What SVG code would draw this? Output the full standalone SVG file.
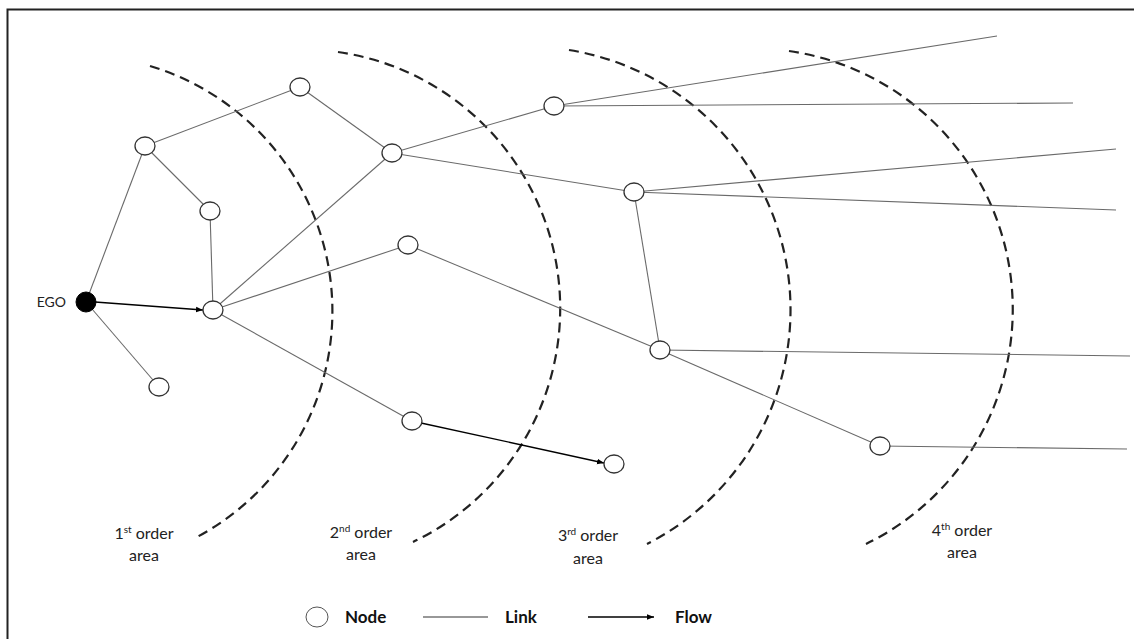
<svg xmlns="http://www.w3.org/2000/svg" width="1134" height="639" viewBox="0 0 1134 639">
<defs>
<style>
.node{fill:#fff;stroke:#333;stroke-width:1.3}
.ego{fill:#000;stroke:#000}
.link{stroke:#6a6a6a;stroke-width:1.1;fill:none}
.flow{stroke:#000;stroke-width:1.3;fill:none;marker-end:url(#ah)}
.area{fill:none;stroke:#222;stroke-width:2.2;stroke-dasharray:10 6}
.lbl{font-family:Lato,"Open Sans",sans-serif;font-size:16px;fill:#222;text-anchor:middle}
.leg{font-family:Lato,"Open Sans",sans-serif;font-size:17px;font-weight:bold;fill:#111}
</style>
<marker id="ah" viewBox="0 0 10 10" refX="10" refY="5" markerWidth="7" markerHeight="7" markerUnits="userSpaceOnUse" orient="auto">
<path d="M0,1 L10,5 L0,9 z" fill="#000"/>
</marker>
</defs>
<rect width="1134" height="639" fill="#fff"/>
<path d="M7.5,639 V9.5 H1134" fill="none" stroke="#222" stroke-width="2"/>
<g id="areas">
<path class="area" d="M150,66 A256,256 0 0 1 197,537"/>
<path class="area" d="M338,52 A259,259 0 0 1 413,542"/>
<path class="area" d="M569,50 A263,263 0 0 1 647,544"/>
<path class="area" d="M789,51 A261,261 0 0 1 866,544"/>
</g>
<g id="connectors">
<line class="link" x1="86" y1="302" x2="145" y2="146"/>
<line class="link" x1="145" y1="146" x2="300" y2="87"/>
<line class="link" x1="145" y1="146" x2="210" y2="211"/>
<line class="link" x1="210" y1="211" x2="213" y2="310"/>
<line class="link" x1="300" y1="87" x2="392" y2="153"/>
<line class="link" x1="392" y1="153" x2="213" y2="310"/>
<line class="link" x1="392" y1="153" x2="554" y2="106"/>
<line class="link" x1="392" y1="153" x2="634" y2="192"/>
<line class="link" x1="213" y1="310" x2="408" y2="245"/>
<line class="link" x1="408" y1="245" x2="660" y2="350"/>
<line class="link" x1="634" y1="192" x2="660" y2="350"/>
<line class="link" x1="213" y1="310" x2="412" y2="421"/>
<line class="link" x1="86" y1="302" x2="159" y2="387"/>
<line class="link" x1="554" y1="106" x2="997" y2="36"/>
<line class="link" x1="554" y1="106" x2="1073" y2="103"/>
<line class="link" x1="634" y1="192" x2="1116" y2="149"/>
<line class="link" x1="634" y1="192" x2="1116" y2="210"/>
<line class="link" x1="660" y1="350" x2="1130" y2="356"/>
<line class="link" x1="660" y1="350" x2="880" y2="446"/>
<line class="link" x1="880" y1="446" x2="1127" y2="449"/>
<line class="flow" x1="95" y1="302" x2="203" y2="310"/>
<line class="flow" x1="421" y1="423" x2="604" y2="463"/>
</g>
<g id="ego"><circle class="ego" cx="86" cy="302" r="10"/><text x="66" y="307" text-anchor="end" font-family="Lato,'Open Sans',sans-serif" font-size="14" fill="#222">EGO</text></g>
<g id="n1"><ellipse class="node" cx="145" cy="146" rx="10" ry="9"/></g>
<g id="n2"><ellipse class="node" cx="300" cy="87" rx="10" ry="9"/></g>
<g id="n3"><ellipse class="node" cx="210" cy="211" rx="10" ry="9"/></g>
<g id="n4"><ellipse class="node" cx="392" cy="153" rx="10" ry="9"/></g>
<g id="n5"><ellipse class="node" cx="554" cy="106" rx="10" ry="9"/></g>
<g id="n6"><ellipse class="node" cx="634" cy="192" rx="10" ry="9"/></g>
<g id="n7"><ellipse class="node" cx="408" cy="245" rx="10" ry="9"/></g>
<g id="n8"><ellipse class="node" cx="213" cy="310" rx="10" ry="9"/></g>
<g id="n9"><ellipse class="node" cx="159" cy="387" rx="10" ry="9"/></g>
<g id="n10"><ellipse class="node" cx="660" cy="350" rx="10" ry="9"/></g>
<g id="n11"><ellipse class="node" cx="412" cy="421" rx="10" ry="9"/></g>
<g id="n12"><ellipse class="node" cx="614" cy="464" rx="10" ry="9"/></g>
<g id="n13"><ellipse class="node" cx="880" cy="446" rx="10" ry="9"/></g>
<g id="labels">
<text class="lbl" x="144" y="539">1<tspan font-size="10" dy="-6">st</tspan><tspan dy="6"> order</tspan></text>
<text class="lbl" x="144" y="561">area</text>
<text class="lbl" x="361" y="538">2<tspan font-size="10" dy="-6">nd</tspan><tspan dy="6"> order</tspan></text>
<text class="lbl" x="361" y="560">area</text>
<text class="lbl" x="588" y="541">3<tspan font-size="10" dy="-6">rd</tspan><tspan dy="6"> order</tspan></text>
<text class="lbl" x="588" y="564">area</text>
<text class="lbl" x="962" y="536">4<tspan font-size="10" dy="-6">th</tspan><tspan dy="6"> order</tspan></text>
<text class="lbl" x="962" y="558">area</text>
</g>
<g id="legend">
<ellipse cx="317" cy="617" rx="11" ry="10" fill="#fff" stroke="#555" stroke-width="1"/>
<text class="leg" x="345" y="623">Node</text>
<line x1="423" y1="617" x2="488" y2="617" stroke="#333" stroke-width="1.2"/>
<text class="leg" x="505" y="623">Link</text>
<line x1="588" y1="617" x2="654" y2="617" stroke="#000" stroke-width="1.5" marker-end="url(#ah)"/>
<text class="leg" x="675" y="623">Flow</text>
</g>
</svg>
